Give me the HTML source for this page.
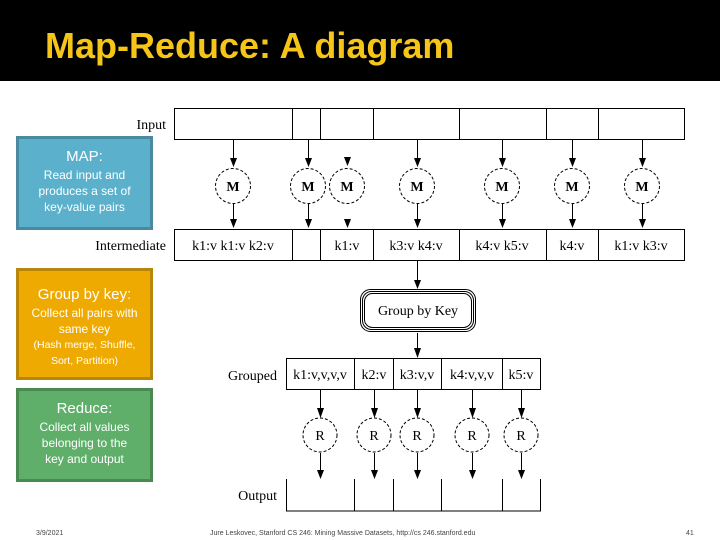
<!DOCTYPE html>
<html><head><meta charset="utf-8"><style>
html,body{margin:0;padding:0;background:#fff;}
body{width:720px;height:540px;overflow:hidden;position:relative;font-family:"Liberation Sans",sans-serif;}
.hdr{position:absolute;left:0;top:0;width:720px;height:81px;background:#000;}
.title{position:absolute;left:45px;top:22px;color:#f5c518;font-size:36px;font-weight:bold;line-height:48px;}
.box{position:absolute;left:16px;width:131px;border:3px solid;text-align:center;color:#fff;font-size:12px;line-height:16px;}
.box .h{font-size:15px;line-height:20px;margin-top:8px;}
.ft{position:absolute;top:530px;font-size:7px;color:#444;}
</style></head><body>
<div class="hdr"></div>
<div class="title">Map-Reduce: A diagram</div>
<div class="box" style="top:136px;height:88px;background:#5bb1cc;border-color:#4a8aa0;"><div class="h">MAP:</div>Read input and<br>produces a set of<br>key-value pairs</div>
<div class="box" style="top:268px;height:106px;background:#eeaa00;border-color:#b8860b;"><div class="h" style="margin-top:14px">Group by key:</div>Collect all pairs with<br>same key<div style="font-size:10.5px;line-height:16px">(Hash merge, Shuffle,<br>Sort, Partition)</div></div>
<div class="box" style="top:388px;height:88px;background:#5faf6a;border-color:#4a8a50;"><div class="h">Reduce:</div>Collect all values<br>belonging to the<br>key and output</div>
<svg width="720" height="540" style="position:absolute;left:0;top:0" font-family="Liberation Serif,serif">
<g stroke="#000" stroke-width="1" fill="none">
<rect x="174.5" y="108.5" width="510" height="31"/>
<path d="M292.5,108v31M320.5,108v31M373.5,108v31M459.5,108v31M546.5,108v31M598.5,108v31"/>
<rect x="174.5" y="229.5" width="510" height="31"/>
<path d="M292.5,229v31M320.5,229v31M373.5,229v31M459.5,229v31M546.5,229v31M598.5,229v31"/>
<g stroke-dasharray="3,2">
<circle cx="233" cy="186" r="17.5"/><circle cx="308" cy="186" r="17.5"/><circle cx="347" cy="186" r="17.5"/><circle cx="417" cy="186" r="17.5"/><circle cx="502" cy="186" r="17.5"/><circle cx="572" cy="186" r="17.5"/><circle cx="642" cy="186" r="17.5"/>
<circle cx="320" cy="435" r="17"/><circle cx="374" cy="435" r="17"/><circle cx="417" cy="435" r="17"/><circle cx="472" cy="435" r="17"/><circle cx="521" cy="435" r="17"/>
</g>
<path d="M233.5,140V160M308.5,140V160M417.5,140V160M502.5,140V160M572.5,140V160M642.5,140V160"/>
<path d="M233.5,204V221M308.5,204V221M417.5,204V221M502.5,204V221M572.5,204V221M642.5,204V221"/>
<path d="M417.5,261V282M417.5,333V350"/>
<path d="M320.5,390V410M374.5,390V410M417.5,390V410M472.5,390V410M521.5,390V410"/>
<path d="M320.5,453V472M374.5,453V472M417.5,453V472M472.5,453V472M521.5,453V472"/>
<rect x="360.5" y="289.5" width="115" height="42" rx="10"/>
<rect x="362.5" y="291.5" width="111" height="38" rx="9"/>
<rect x="364.5" y="293.5" width="107" height="34" rx="8"/>
<rect x="286.5" y="358.5" width="254" height="31"/>
<path d="M354.5,358v31M393.5,358v31M441.5,358v31M502.5,358v31"/>
<path d="M286.5,479v32h254v-32M354.5,479v32M393.5,479v32M441.5,479v32M502.5,479v32"/>
</g>
<g fill="#000">
<path d="M230,158h7l-3.5,9zM305,158h7l-3.5,9zM344,157h7l-3.5,9zM414,158h7l-3.5,9zM499,158h7l-3.5,9zM569,158h7l-3.5,9zM639,158h7l-3.5,9z"/>
<path d="M230,219h7l-3.5,9zM305,219h7l-3.5,9zM344,219h7l-3.5,9zM414,219h7l-3.5,9zM499,219h7l-3.5,9zM569,219h7l-3.5,9zM639,219h7l-3.5,9z"/>
<path d="M414,280h7l-3.5,9zM414,348h7l-3.5,10z"/>
<path d="M317,408h7l-3.5,10zM371,408h7l-3.5,10zM414,408h7l-3.5,10zM469,408h7l-3.5,10zM518,408h7l-3.5,10z"/>
<path d="M317,470h7l-3.5,9zM371,470h7l-3.5,9zM414,470h7l-3.5,9zM469,470h7l-3.5,9zM518,470h7l-3.5,9z"/>
</g>
<g font-size="14" fill="#000">
<text x="166" y="129" text-anchor="end">Input</text>
<text x="166" y="250" text-anchor="end">Intermediate</text>
<text x="277" y="380" text-anchor="end">Grouped</text>
<text x="277" y="500" text-anchor="end">Output</text>
<text x="233" y="250" text-anchor="middle">k1:v k1:v k2:v</text>
<text x="347" y="250" text-anchor="middle">k1:v</text>
<text x="416" y="250" text-anchor="middle">k3:v k4:v</text>
<text x="502" y="250" text-anchor="middle">k4:v k5:v</text>
<text x="572" y="250" text-anchor="middle">k4:v</text>
<text x="641" y="250" text-anchor="middle">k1:v k3:v</text>
<text x="418" y="315" text-anchor="middle">Group by Key</text>
<text x="320" y="379" text-anchor="middle">k1:v,v,v,v</text>
<text x="374" y="379" text-anchor="middle">k2:v</text>
<text x="417" y="379" text-anchor="middle">k3:v,v</text>
<text x="472" y="379" text-anchor="middle">k4:v,v,v</text>
<text x="521" y="379" text-anchor="middle">k5:v</text>
<g font-weight="bold" text-anchor="middle" font-size="14">
<text x="233" y="191">M</text><text x="308" y="191">M</text><text x="347" y="191">M</text><text x="417" y="191">M</text><text x="502" y="191">M</text><text x="572" y="191">M</text><text x="642" y="191">M</text>
</g>
<g text-anchor="middle" font-size="14">
<text x="320" y="440">R</text><text x="374" y="440">R</text><text x="417" y="440">R</text><text x="472" y="440">R</text><text x="521" y="440">R</text>
</g>
</g>
</svg>
<div class="ft" style="left:36px">3/9/2021</div>
<div class="ft" style="left:210px">Jure Leskovec, Stanford CS 246: Mining Massive Datasets, http://cs 246.stanford.edu</div>
<div class="ft" style="left:686px">41</div>
</body></html>
